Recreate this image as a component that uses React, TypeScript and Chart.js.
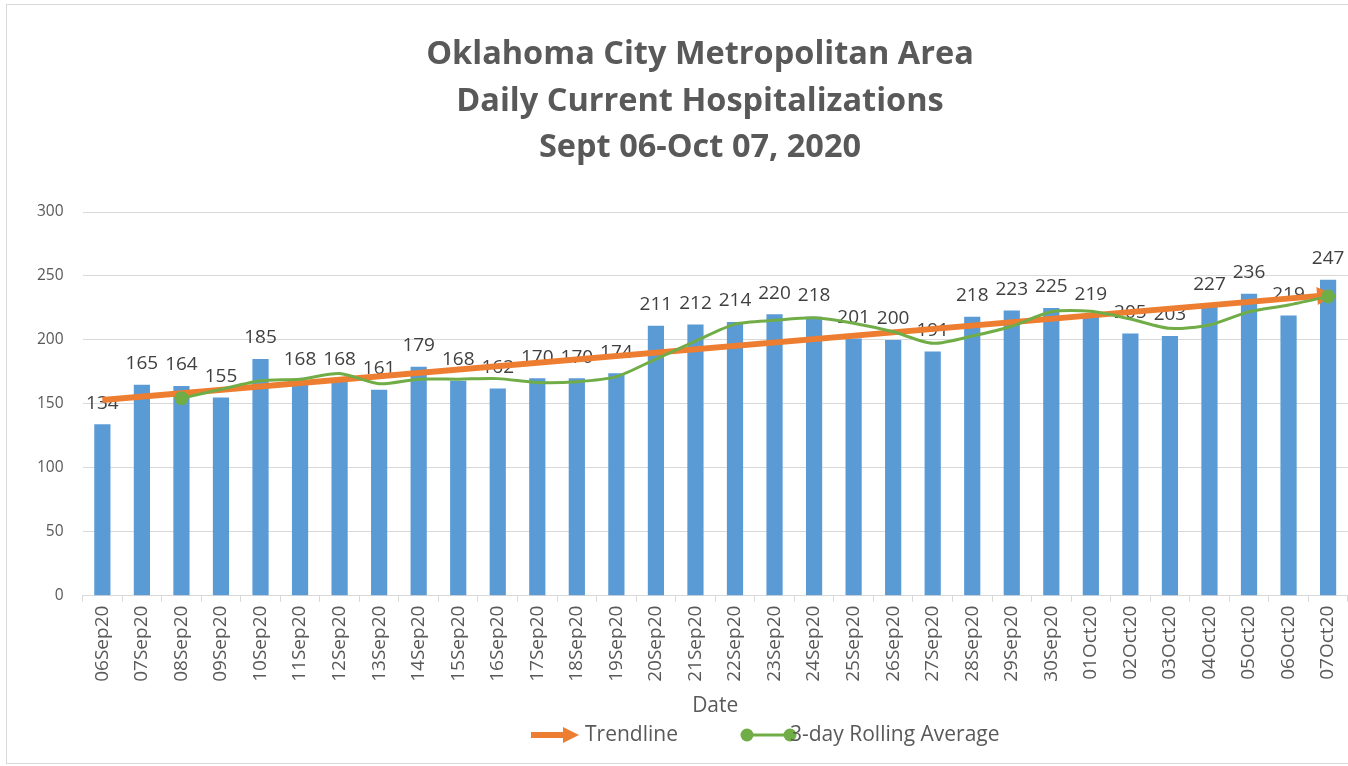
import React, { useEffect, useRef } from 'react';
import { Chart, registerables } from 'chart.js';

Chart.register(...registerables);

const titleLines = ['Oklahoma City Metropolitan Area', 'Daily Current Hospitalizations', 'Sept 06-Oct 07, 2020'];

const dates = [
  '06Sep20', '07Sep20', '08Sep20', '09Sep20', '10Sep20', '11Sep20', '12Sep20', '13Sep20',
  '14Sep20', '15Sep20', '16Sep20', '17Sep20', '18Sep20', '19Sep20', '20Sep20', '21Sep20',
  '22Sep20', '23Sep20', '24Sep20', '25Sep20', '26Sep20', '27Sep20', '28Sep20', '29Sep20',
  '30Sep20', '01Oct20', '02Oct20', '03Oct20', '04Oct20', '05Oct20', '06Oct20', '07Oct20',
];

const hospitalizations = [
  134, 165, 164, 155, 185, 168, 168, 161,
  179, 168, 162, 170, 170, 174, 211, 212,
  214, 220, 218, 201, 200, 191, 218, 223,
  225, 219, 205, 203, 227, 236, 219, 247,
];

const rollingAverage = [
  null, null, 154.3, 161.3, 168.0, 169.3, 173.7, 165.7,
  169.3, 169.3, 169.7, 166.7, 167.3, 171.3, 185.0, 199.0,
  212.3, 215.3, 217.3, 213.0, 206.3, 197.3, 203.0, 210.7,
  222.0, 222.3, 216.3, 209.0, 211.7, 222.0, 227.3, 234.0,
];

const trendStartValue = 153;
const trendEndValue = 235;

const yTicks = [0, 50, 100, 150, 200, 250, 300];

const xAxisTitle = 'Date';
const trendLabel = 'Trendline';
const rollingLabel = '3-day Rolling Average';

const FONT = '"Open Sans", Lato, "DejaVu Sans", sans-serif';
const TEXT = '#595959';
const GRID = '#d9d9d9';
const BLUE = '#5b9bd5';
const ORANGE = '#ed7d31';
const GREEN = '#70ad47';

const CANVAS_W = 1355;
const CANVAS_H = 766;

const App: React.FC = () => {
  const canvasRef = useRef<HTMLCanvasElement | null>(null);

  useEffect(() => {
    const canvas = canvasRef.current;
    if (!canvas) return;

    const lastIdx = dates.length - 1;
    const firstAvgIdx = rollingAverage.findIndex((v) => v !== null);

    const decorPlugin = {
      id: 'decor',
      afterDatasetDraw(chart: any, args: any) {
        const ctx = chart.ctx;
        if (args.index === 0) {
          const meta = chart.getDatasetMeta(0);
          ctx.save();
          ctx.font = `19px ${FONT}`;
          ctx.fillStyle = '#404040';
          ctx.textAlign = 'center';
          ctx.textBaseline = 'middle';
          meta.data.forEach((bar: any, i: number) => {
            ctx.fillText(String(hospitalizations[i]), bar.x, bar.y - 21);
          });
          ctx.restore();
        }
        if (args.index === 1) {
          const meta = chart.getDatasetMeta(1);
          const p0 = meta.data[0];
          const p1 = meta.data[meta.data.length - 1];
          const ang = Math.atan2(p1.y - p0.y, p1.x - p0.x);
          const tipX = p1.x + 6 * Math.cos(ang);
          const tipY = p1.y + 6 * Math.sin(ang);
          const len = 17;
          const half = 9;
          const bx = tipX - len * Math.cos(ang);
          const by = tipY - len * Math.sin(ang);
          ctx.save();
          ctx.fillStyle = ORANGE;
          ctx.beginPath();
          ctx.moveTo(tipX, tipY);
          ctx.lineTo(bx + half * Math.sin(ang), by - half * Math.cos(ang));
          ctx.lineTo(bx - half * Math.sin(ang), by + half * Math.cos(ang));
          ctx.closePath();
          ctx.fill();
          ctx.restore();
        }
      },
      afterDraw(chart: any) {
        const ctx = chart.ctx;
        ctx.save();
        ctx.font = `bold 32.5px ${FONT}`;
        ctx.fillStyle = TEXT;
        ctx.textAlign = 'center';
        ctx.textBaseline = 'middle';
        titleLines.forEach((line, i) => {
          ctx.fillText(line, 700, 55 + i * 46.5);
        });

        const ly = 735;
        ctx.font = `21px ${FONT}`;
        ctx.textAlign = 'left';
        ctx.strokeStyle = ORANGE;
        ctx.lineWidth = 6;
        ctx.beginPath();
        ctx.moveTo(531, ly);
        ctx.lineTo(565, ly);
        ctx.stroke();
        ctx.fillStyle = ORANGE;
        ctx.beginPath();
        ctx.moveTo(579, ly);
        ctx.lineTo(563, ly - 8);
        ctx.lineTo(563, ly + 8);
        ctx.closePath();
        ctx.fill();
        ctx.fillStyle = TEXT;
        ctx.fillText(trendLabel, 585, ly);
        ctx.strokeStyle = GREEN;
        ctx.lineWidth = 3;
        ctx.beginPath();
        ctx.moveTo(747, ly);
        ctx.lineTo(790, ly);
        ctx.stroke();
        ctx.fillStyle = GREEN;
        [747, 790].forEach((x) => {
          ctx.beginPath();
          ctx.arc(x, ly, 6.5, 0, Math.PI * 2);
          ctx.fill();
        });
        ctx.fillStyle = TEXT;
        ctx.fillText(rollingLabel, 790, ly);
        ctx.restore();
      },
    };

    const chart = new Chart(canvas, {
      type: 'bar',
      data: {
        labels: dates,
        datasets: [
          {
            type: 'bar',
            label: 'Hospitalizations',
            data: hospitalizations,
            backgroundColor: BLUE,
            barPercentage: 0.41,
            categoryPercentage: 1,
            order: 3,
          },
          {
            type: 'line',
            label: trendLabel,
            data: [
              { x: dates[0], y: trendStartValue },
              { x: dates[lastIdx], y: trendEndValue },
            ],
            borderColor: ORANGE,
            backgroundColor: ORANGE,
            borderWidth: 6,
            pointRadius: 0,
            order: 2,
          },
          {
            type: 'line',
            label: rollingLabel,
            data: rollingAverage,
            borderColor: GREEN,
            backgroundColor: GREEN,
            borderWidth: 3,
            tension: 0.25,
            pointRadius: (c: any) => (c.dataIndex === firstAvgIdx || c.dataIndex === lastIdx ? 7 : 0),
            pointBorderWidth: 0,
            order: 1,
          },
        ] as any,
      },
      options: {
        responsive: false,
        animation: false,
        events: [],
        layout: { padding: { top: 212, left: 18, right: 1, bottom: 47 } },
        plugins: {
          legend: { display: false },
          title: { display: false },
          tooltip: { enabled: false },
        },
        scales: {
          x: {
            type: 'category',
            offset: true,
            grid: {
              display: true,
              offset: true,
              drawOnChartArea: false,
              drawTicks: true,
              tickLength: 6,
              color: GRID,
            },
            border: { display: true, color: GRID, width: 1 },
            ticks: {
              autoSkip: false,
              minRotation: 90,
              maxRotation: 90,
              padding: 4,
              color: TEXT,
              font: { family: FONT, size: 19 },
            },
            title: {
              display: true,
              text: xAxisTitle,
              color: TEXT,
              font: { family: FONT, size: 21 },
              padding: { top: 8, bottom: 0 },
            },
          },
          y: {
            min: 0,
            max: 300,
            afterBuildTicks: (scale: any) => {
              scale.ticks = yTicks.map((v) => ({ value: v }));
            },
            grid: { color: GRID, lineWidth: 1, drawTicks: false },
            border: { display: false },
            ticks: {
              padding: 19,
              color: TEXT,
              font: { family: FONT, size: 15.5 },
            },
          },
        },
      },
      plugins: [decorPlugin],
    });

    return () => chart.destroy();
  }, []);

  return (
    <div style={{ position: 'fixed', left: 0, top: 0, width: 1348, height: 766, background: '#fff', overflow: 'hidden' }}>
      <div
        style={{
          position: 'absolute',
          left: 6,
          top: 4,
          width: 1360,
          height: 760,
          border: '1px solid #d9d9d9',
          boxSizing: 'border-box',
        }}
      />
      <canvas
        ref={canvasRef}
        width={CANVAS_W}
        height={CANVAS_H}
        style={{ position: 'absolute', left: 0, top: 0, width: CANVAS_W, height: CANVAS_H }}
      />
    </div>
  );
};

export default App;
